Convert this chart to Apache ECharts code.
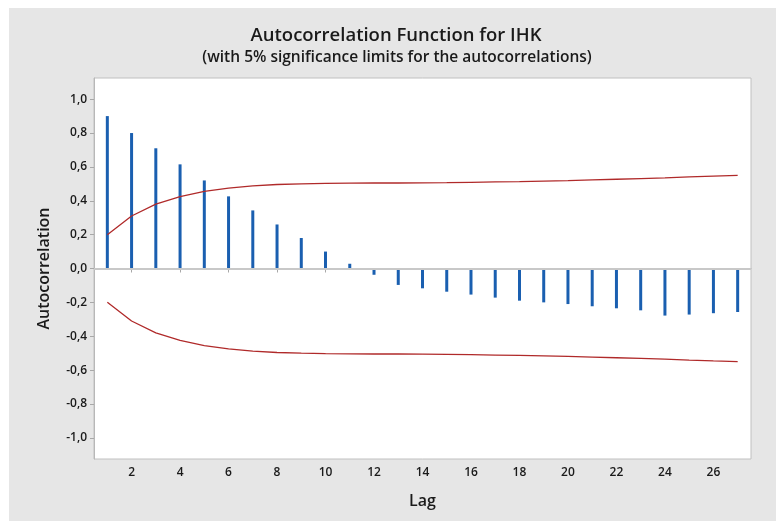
<!DOCTYPE html>
<html>
<head>
<meta charset="utf-8">
<script src="https://cdn.jsdelivr.net/npm/echarts@6/dist/echarts.min.js"></script>
<style>html,body{margin:0;padding:0;background:#fff}#c{width:776px;height:521px}</style>
</head>
<body>
<div id="c"></div>
<script>
const titleText = "Autocorrelation Function for IHK";
const subtitleText = "(with 5% significance limits for the autocorrelations)";
const xName = "Lag";
const yName = "Autocorrelation";
const lags = [1,2,3,4,5,6,7,8,9,10,11,12,13,14,15,16,17,18,19,20,21,22,23,24,25,26,27];
const acf = [0.90,0.80,0.71,0.615,0.52,0.426,0.343,0.26,0.18,0.10,0.028,-0.037,-0.097,-0.117,-0.137,-0.154,-0.172,-0.19,-0.20,-0.21,-0.223,-0.235,-0.247,-0.278,-0.272,-0.264,-0.257];
const upperLimit = [0.199,0.31,0.38,0.425,0.455,0.475,0.488,0.496,0.50,0.503,0.504,0.505,0.505,0.506,0.507,0.509,0.511,0.513,0.516,0.519,0.523,0.527,0.531,0.535,0.541,0.546,0.550];
const lowerLimit = [-0.199,-0.31,-0.38,-0.425,-0.455,-0.475,-0.488,-0.496,-0.50,-0.503,-0.504,-0.505,-0.505,-0.506,-0.507,-0.509,-0.511,-0.513,-0.516,-0.519,-0.523,-0.527,-0.531,-0.535,-0.541,-0.546,-0.550];
const xTicks = [2,4,6,8,10,12,14,16,18,20,22,24,26];
const yTicks = [-1.0,-0.8,-0.6,-0.4,-0.2,0.0,0.2,0.4,0.6,0.8,1.0];

const font = "'Open Sans', 'Noto Sans', sans-serif";
const chart = echarts.init(document.getElementById('c'), null, {renderer:'canvas'});
chart.setOption({
  backgroundColor: '#ffffff',
  animation: false,
  textStyle: {fontFamily: font},
  graphic: [
    {type:'rect', z:-10, shape:{x:9, y:8, width:767, height:513}, style:{fill:'#e6e6e6'}},
    {type:'text', x:396, y:36, style:{text:titleText, fill:'#1a1a1a', font:"600 18.5px " + font, textAlign:'center', textVerticalAlign:'middle'}},
    {type:'text', x:397, y:58, style:{text:subtitleText, fill:'#1a1a1a', font:"600 15.5px " + font, textAlign:'center', textVerticalAlign:'middle'}}
  ],
  grid: {left:94, top:78, right:25, bottom:62, show:true, backgroundColor:'#ffffff', borderColor:'#c0c0c0', borderWidth:1},
  xAxis: {
    type:'value', min:0.45, max:27.55,
    name: xName, nameLocation:'middle', nameGap:34,
    nameTextStyle:{fontSize:16, fontWeight:600, color:'#1a1a1a', fontFamily:font},
    axisLine:{show:true, lineStyle:{color:'#b8b8b8'}},
    axisTick:{show:true, length:4, customValues:xTicks, lineStyle:{color:'#a8a8a8'}},
    axisLabel:{customValues:xTicks, fontSize:12, fontWeight:600, color:'#1a1a1a', margin:8, fontFamily:font},
    splitLine:{show:false}
  },
  yAxis: {
    type:'value', min:-1.125, max:1.125,
    name: yName, nameLocation:'middle', nameGap:42, nameRotate:90,
    nameTextStyle:{fontSize:16, fontWeight:600, color:'#1a1a1a', fontFamily:font},
    axisLine:{show:true, lineStyle:{color:'#b8b8b8'}},
    axisTick:{show:true, length:4, customValues:yTicks, lineStyle:{color:'#a8a8a8'}},
    axisLabel:{customValues:yTicks, fontSize:12, fontWeight:600, color:'#1a1a1a', margin:7, fontFamily:font,
      formatter: v => v.toFixed(1).replace('.', ',')},
    splitLine:{show:false}
  },
  series: [
    {
      type:'bar', barWidth:3, itemStyle:{color:'#1a5fb0'},
      data: lags.map((l,i)=>[l, acf[i]]),
      markLine: {silent:true, symbol:['none','none'], label:{show:false},
        lineStyle:{color:'#c8c8c8', width:2, type:'solid'}, data:[{yAxis:0}]},
      z:3
    },
    {type:'line', showSymbol:false, symbol:'none', lineStyle:{color:'#b02a2a', width:1.3},
      data: lags.map((l,i)=>[l, upperLimit[i]]), z:4},
    {type:'line', showSymbol:false, symbol:'none', lineStyle:{color:'#b02a2a', width:1.3},
      data: lags.map((l,i)=>[l, lowerLimit[i]]), z:4}
  ]
});
</script>
</body>
</html>
